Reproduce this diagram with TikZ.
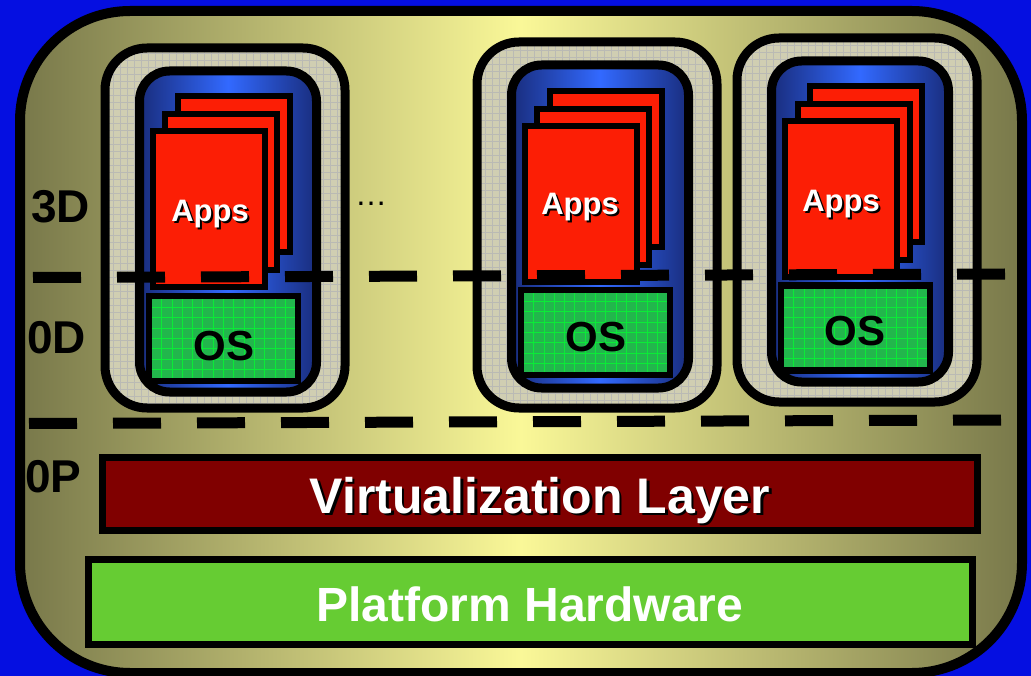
\documentclass[tikz,border=0pt]{standalone}
\usepackage{fontspec}
\setmainfont{Liberation Sans}

\definecolor{bgblue}{RGB}{5,15,225}
\definecolor{olivedge}{RGB}{120,120,74}
\definecolor{paleyellow}{RGB}{250,248,152}
\definecolor{vmgray}{RGB}{208,206,178}
\definecolor{vmgridline}{RGB}{186,186,180}
\definecolor{navyedge}{RGB}{25,45,125}
\definecolor{brightblue}{RGB}{50,105,255}
\definecolor{appred}{RGB}{252,30,5}
\definecolor{osgreen}{RGB}{34,182,76}
\definecolor{osgridline}{RGB}{10,235,55}
\definecolor{virtred}{RGB}{128,0,0}
\definecolor{hwgreen}{RGB}{102,204,51}

\begin{document}
\begin{tikzpicture}[x=1pt, y=-1pt,
    hostbox/.style={draw=black, line width=10pt, rounded corners=110pt, left color=olivedge, right color=olivedge, middle color=paleyellow, inner sep=0pt},
    vmbox/.style={draw=black, line width=9pt, rounded corners=42pt, fill=vmgray, inner sep=0pt, minimum width=240pt,
        path picture={\draw[vmgridline, line width=0.8pt] (path picture bounding box.south west) grid[step=7pt] (path picture bounding box.north east);}},
    guestbox/.style={draw=black, line width=9pt, rounded corners=30pt, left color=navyedge, right color=navyedge, middle color=brightblue, inner sep=0pt, minimum width=177pt},
    appcard/.style={draw=black, line width=6pt, fill=appred, inner sep=0pt, minimum width=112pt, minimum height=156pt},
    osbox/.style={draw=black, line width=6.5pt, fill=osgreen, inner sep=0pt, minimum width=149pt, minimum height=85pt,
        path picture={\draw[osgridline, line width=1pt] (path picture bounding box.south west) grid[step=10.3pt] (path picture bounding box.north east);}},
    layerbar/.style={draw=black, line width=7pt, inner sep=0pt},
    divider/.style={line width=11pt, dash pattern=on 48pt off 36pt},
    apptext/.style={font=\bfseries\fontsize{31}{31}\selectfont, inner sep=0pt, anchor=base},
    ostext/.style={font=\bfseries\fontsize{42}{42}\selectfont, inner sep=0pt, anchor=base},
    leveltext/.style={font=\bfseries\fontsize{46}{46}\selectfont, inner sep=0pt, anchor=base west},
    bartext/.style={font=\bfseries\fontsize{50}{50}\selectfont, inner sep=0pt, anchor=base}
  ]

    \useasboundingbox (0,0) rectangle (1031,676);
    \fill[bgblue] (0,0) rectangle (1031,676);

    \node[hostbox, minimum width=1002pt, minimum height=662pt] (host) at (521,342) {};

    \node[vmbox, minimum height=360pt] (vm1) at (225,228) {};
    \node[guestbox, minimum height=321pt] (g1) at (228,231.5) {};
    \node[appcard] (c1) at (233.5,174.5) {};
    \node[appcard] (b1) at (221,192) {};
    \node[appcard] (a1) at (208.5,209.5) {};
    \node[osbox] (o1) at (223.5,338.5) {};

    \node[vmbox, minimum height=366pt] (vm2) at (597,225) {};
    \node[guestbox, minimum height=323pt] (g2) at (600,226.5) {};
    \node[appcard] (c2) at (605.5,169) {};
    \node[appcard] (b2) at (593,187) {};
    \node[appcard] (a2) at (580.5,204) {};
    \node[osbox] (o2) at (595.5,332.5) {};

    \node[vmbox, minimum height=364pt] (vm3) at (857,220) {};
    \node[guestbox, minimum height=321pt] (g3) at (860,221.5) {};
    \node[appcard] (c3) at (866,164.5) {};
    \node[appcard] (b3) at (853.5,182) {};
    \node[appcard] (a3) at (841,199) {};
    \node[osbox] (o3) at (855.5,328) {};

    \node[apptext, black] (ta1s) at (212,224) {Apps};
    \node[apptext, white] (ta1) at (210,222) {Apps};
    \node[apptext, black] (ta2s) at (582,217) {Apps};
    \node[apptext, white] (ta2) at (580,215) {Apps};
    \node[apptext, black] (ta3s) at (843,214) {Apps};
    \node[apptext, white] (ta3) at (841,212) {Apps};

    \node[ostext] (to1) at (224,360) {OS};
    \node[ostext] (to2) at (596,352) {OS};
    \node[ostext] (to3) at (855,345) {OS};

    \node[font=\fontsize{32}{32}\selectfont, inner sep=0pt, anchor=base] (more) at (371,206) {…};

    \coordinate (d1) at (33,277.5);
    \coordinate (d2) at (1005,274);
    \coordinate (d3) at (29,423.5);
    \coordinate (d4) at (1001,420);
    \draw[divider] (d1) -- (d2);
    \draw[divider] (d3) -- (d4);

    \node[leveltext] (l3d) at (31,223) {3D};
    \node[leveltext] (l0d) at (27,353) {0D};
    \node[leveltext] (l0p) at (25,492) {0P};

    \node[layerbar, fill=virtred, minimum width=875pt, minimum height=73pt] (virt) at (539.5,493.5) {};
    \node[layerbar, fill=hwgreen, minimum width=884pt, minimum height=85pt] (hw) at (530,601.5) {};

    \node[bartext, black] (tvs) at (542.5,515.5) {Virtualization Layer};
    \node[bartext, white] (tv) at (540,513) {Virtualization Layer};
    \node[bartext, white, font=\bfseries\fontsize{48}{48}\selectfont] (th) at (530,621) {Platform Hardware};

\end{tikzpicture}
\end{document}
